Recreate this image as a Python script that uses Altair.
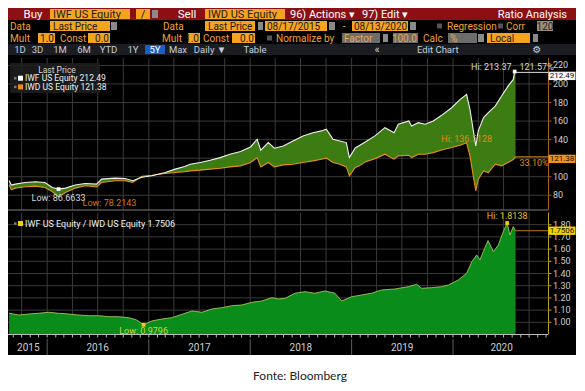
import altair as alt
import pandas as pd

# ---------------- data ----------------
price_dates = [
    "2015-08-17", "2015-08-25", "2015-09-08", "2015-10-14", "2015-11-19", "2015-12-24",
    "2016-01-19", "2016-02-11", "2016-03-07", "2016-04-11", "2016-05-17", "2016-06-27",
    "2016-07-15", "2016-09-02", "2016-10-07", "2016-11-04", "2016-12-07", "2017-01-12",
    "2017-03-01", "2017-04-06", "2017-05-10", "2017-05-30", "2017-07-05", "2017-08-10",
    "2017-09-15", "2017-10-20", "2017-11-27", "2018-01-02", "2018-01-26", "2018-02-08",
    "2018-03-07", "2018-03-29", "2018-04-30", "2018-06-04", "2018-07-10", "2018-08-15",
    "2018-09-14", "2018-10-02", "2018-10-26", "2018-11-19", "2018-12-13", "2018-12-24",
    "2019-01-14", "2019-01-31", "2019-02-19", "2019-03-26", "2019-05-01", "2019-06-03",
    "2019-06-18", "2019-07-26", "2019-08-05", "2019-08-29", "2019-09-23", "2019-10-22",
    "2019-11-21", "2019-12-27", "2020-01-27", "2020-02-19", "2020-03-02", "2020-03-23",
    "2020-04-01", "2020-04-20", "2020-05-07", "2020-06-01", "2020-06-24", "2020-07-17",
    "2020-08-05", "2020-08-10", "2020-08-13"]

iwf_price = [
    95.90, 91.0, 92.0, 93.8, 94.5, 93.8,
    88.4, 86.6633, 87.7, 91.0, 92.7, 92.0,
    97.4, 98.5, 98.0, 95.6, 99.5, 101.0,
    104.5, 108.2, 111.0, 113.5, 115.3, 117.8,
    120.6, 124.3, 127.1, 132.1, 140.4, 128.6,
    136.8, 130.7, 133.2, 138.6, 144.0, 147.5,
    149.4, 151.2, 140.4, 138.6, 136.8, 120.6,
    131.0, 134.0, 137.5, 144.0, 152.9, 147.5,
    156.6, 160.1, 154.7, 158.3, 156.6, 160.1,
    166.2, 174.4, 183.4, 188.8, 172.7, 133.2,
    149.4, 163.7, 169.1, 176.2, 187.0, 197.7,
    204.9, 213.37, 212.49]

iwd_price = [
    91.195, 86.0, 87.7, 89.1, 89.8, 88.4,
    84.0, 78.2143, 83.0, 87.7, 90.2, 89.1,
    93.8, 95.6, 95.6, 93.8, 100.5, 101.5,
    103.4, 104.5, 105.5, 106.3, 107.1, 108.2,
    109.2, 110.6, 111.7, 115.3, 120.6, 110.6,
    115.3, 110.6, 112.8, 113.5, 115.3, 117.1,
    118.9, 120.0, 115.3, 113.5, 110.6, 101.0,
    110.0, 112.0, 116.0, 119.5, 124.3, 118.9,
    122.5, 123.2, 120.6, 124.3, 124.3, 126.0,
    128.9, 131.4, 134.0, 136.5128, 122.5, 84.8,
    97.4, 106.3, 104.5, 113.5, 111.7, 115.3,
    118.5, 120.2, 121.38]

ratio_dates = [
    "2015-08-17", "2015-09-21", "2015-10-26", "2015-12-01", "2016-01-06", "2016-02-11",
    "2016-03-18", "2016-04-22", "2016-05-27", "2016-07-05", "2016-08-09", "2016-09-14",
    "2016-10-20", "2016-11-18", "2016-12-13", "2017-01-12", "2017-02-17", "2017-03-24",
    "2017-05-01", "2017-06-05", "2017-07-11", "2017-08-16", "2017-09-21", "2017-10-27",
    "2017-12-01", "2018-01-08", "2018-02-12", "2018-03-20", "2018-04-12", "2018-05-07",
    "2018-06-11", "2018-07-17", "2018-08-22", "2018-09-27", "2018-11-02", "2018-11-26",
    "2019-01-02", "2019-02-06", "2019-03-14", "2019-04-18", "2019-06-06", "2019-07-24",
    "2019-08-23", "2019-09-10", "2019-10-16", "2019-11-21", "2019-12-16", "2020-01-20",
    "2020-02-19", "2020-03-09", "2020-03-26", "2020-04-07", "2020-04-24", "2020-05-06",
    "2020-05-26", "2020-06-12", "2020-06-30", "2020-07-14", "2020-07-24", "2020-08-05",
    "2020-08-13"]

ratio_values = [
    1.074, 1.060, 1.068, 1.074, 1.082, 1.074,
    1.068, 1.060, 1.054, 1.054, 1.046, 1.046,
    1.038, 1.019, 0.9796, 1.011, 1.027, 1.038,
    1.066, 1.093, 1.082, 1.109, 1.120, 1.136,
    1.142, 1.164, 1.175, 1.202, 1.191, 1.197,
    1.238, 1.251, 1.238, 1.257, 1.238, 1.175,
    1.210, 1.224, 1.238, 1.265, 1.273, 1.292,
    1.311, 1.279, 1.284, 1.292, 1.306, 1.347,
    1.402, 1.497, 1.552, 1.511, 1.607, 1.670,
    1.579, 1.633, 1.743, 1.8138, 1.716, 1.784,
    1.7506]

year_labels = ["2015", "2016", "2017", "2018", "2019", "2020"]
year_label_dates = ["2015-10-25", "2016-07-01", "2017-07-02", "2018-07-02", "2019-07-02", "2020-06-24"]
year_start_dates = ["2016-01-01", "2017-01-01", "2018-01-01", "2019-01-01", "2020-01-01"]
price_ticks = [80, 100, 120, 140, 160, 180, 200, 220]
ratio_ticks = [1.0, 1.1, 1.2, 1.3, 1.4, 1.5, 1.6, 1.7, 1.8]
period_buttons = ["1D", "3D", "1M", "6M", "YTD", "1Y", "5Y", "Max", "Daily \u25bc", "Table"]

# ---------------- style ----------------
W, H, PAD_R = 540, 375, 28
BG = "#000000"
GRID = "#3a3a3a"
GREEN_TOP = "#3d7c12"
GREEN_BOT = "#0a8c1a"
IWF_COL = "#f2f2f2"
IWD_COL = "#e8901c"
RATIO_EDGE = "#b9d36a"
YELLOW = "#f2d100"
AXIS_LBL = "#cfcfcf"
TOP_AX = "#a35f16"
BOT_AX = "#b8a10a"
RED = "#8c0f14"
AMBER = "#f6a31e"
BOX_TXT = "#1b1b1b"
LBL = "#f3a02a"
GREYBOX = "#6d6d6d"
DROP = "#8a8a8a"
NARROW = "Liberation Sans Narrow, Arial Narrow, Roboto, sans-serif"
UI = "Roboto"
TAG = "M-1,-0.31L1,-0.31L1,0.31L-1,0.31Z"


def ms(s):
    return int(pd.Timestamp(s).value // 10**6)


xscale = alt.Scale(domain=[ms("2015-08-13"), ms("2020-12-08")], nice=False)
top_y = alt.Scale(domain=[64, 228], range=[202.1, 50.0], zero=False, nice=False)
bot_y = alt.Scale(domain=[0.9, 1.9], range=[326.5, 204.5], zero=False, nice=False)
X = alt.X("date:T", scale=xscale, axis=None)


def YT(field):
    return alt.Y(f"{field}:Q", scale=top_y, axis=None)


def YB(field):
    return alt.Y(f"{field}:Q", scale=bot_y, axis=None)


def note(df, y, color, align="center", dx=0, dy=0, size=9):
    return alt.Chart(df).mark_text(color=color, align=align, baseline="middle", dx=dx, dy=dy,
                                   fontSize=size, font=NARROW).encode(x=X, y=y, text="t:N")


def right_axis(tick_df, label_df, yenc, top, bottom, color):
    grid = alt.Chart(tick_df).mark_rule(color=GRID, strokeWidth=1).encode(
        x=alt.value(0), x2=alt.value(540), y=yenc)
    line = alt.Chart(tick_df.head(1)).mark_rule(color=color, strokeWidth=1).encode(
        x=alt.value(540.5), y=alt.value(top), y2=alt.value(bottom))
    ticks = alt.Chart(tick_df).mark_rule(color=color, strokeWidth=1).encode(
        x=alt.value(540.5), x2=alt.value(543.5), y=yenc)
    labels = alt.Chart(label_df).mark_text(color=AXIS_LBL, align="left", baseline="middle",
                                           fontSize=9, font=NARROW).encode(
        x=alt.value(545), y=yenc, text="t:N")
    return grid, alt.layer(line, ticks, labels)


price_df = pd.DataFrame({"date": price_dates, "iwf": iwf_price, "iwd": iwd_price})
ratio_df = pd.DataFrame({"date": ratio_dates, "ratio": ratio_values})
quarters = pd.DataFrame({"date": list(pd.date_range("2015-10-01", "2020-10-01", freq="QS").strftime("%Y-%m-%d"))})
months = pd.DataFrame({"date": list(pd.date_range("2015-09-01", "2020-12-01", freq="MS").strftime("%Y-%m-%d"))})
price_tick_df = pd.DataFrame({"v": price_ticks, "t": [f"{v:d}" for v in price_ticks]})
ratio_tick_df = pd.DataFrame({"v": ratio_ticks, "t": [f"{v:.2f}" for v in ratio_ticks]})
# the last-value tag of IWD hides the tick label right under it, as on the terminal
price_label_df = price_tick_df[(price_tick_df["v"] - iwd_price[-1]).abs() > 3]

# ---------------- top panel ----------------
hgrid_top, axis_top = right_axis(price_tick_df, price_label_df, YT("v"), 50, 202, TOP_AX)
vgrid_top = alt.Chart(quarters).mark_rule(color=GRID, strokeWidth=1).encode(
    x=X, y=alt.value(50), y2=alt.value(202))
area_top = alt.Chart(price_df).mark_area(color=GREEN_TOP, opacity=1).encode(
    x=X, y=YT("iwf"), y2=alt.Y2("iwd"))
line_iwd = alt.Chart(price_df).mark_line(color=IWD_COL, strokeWidth=1.1).encode(x=X, y=YT("iwd"))
line_iwf = alt.Chart(price_df).mark_line(color=IWF_COL, strokeWidth=1.1).encode(x=X, y=YT("iwf"))

f_lo = iwf_price.index(min(iwf_price))
f_hi = iwf_price.index(max(iwf_price))
d_lo = iwd_price.index(min(iwd_price))
d_hi = iwd_price.index(max(iwd_price))

iwf_ext = pd.DataFrame({"date": [price_dates[f_lo], price_dates[f_hi]],
                        "v": [iwf_price[f_lo], iwf_price[f_hi]]})
marks_top = alt.Chart(iwf_ext).mark_square(color="#ffffff", size=14, opacity=1).encode(x=X, y=YT("v"))

t_flo = pd.DataFrame({"date": [price_dates[f_lo]], "v": [iwf_price[f_lo]], "t": [f"Low: {iwf_price[f_lo]:.4f}"]})
t_dlo = pd.DataFrame({"date": [price_dates[d_lo]], "v": [iwd_price[d_lo]], "t": [f"Low: {iwd_price[d_lo]:.4f}"]})
t_fhi = pd.DataFrame({"date": [price_dates[f_hi]], "v": [iwf_price[f_hi]], "t": [f"Hi: {iwf_price[f_hi]:.2f}"]})
t_dhi = pd.DataFrame({"date": [price_dates[d_hi]], "v": [iwd_price[d_hi]], "t": [f"Hi: {iwd_price[d_hi]:.4f}"]})
pct_f = (iwf_price[-1] / iwf_price[0] - 1) * 100
pct_d = (iwd_price[-1] / iwd_price[0] - 1) * 100
t_fpct = pd.DataFrame({"date": [price_dates[-1]], "v": [iwf_price[-1]], "t": [f"{pct_f:.2f}%"]})
t_dpct = pd.DataFrame({"date": [price_dates[-1]], "v": [iwd_price[-1]], "t": [f"{pct_d:.2f}%"]})

last_f = pd.DataFrame({"date": [price_dates[-1]], "v": [iwf_price[-1]], "t": [f"{iwf_price[-1]:.2f}"]})
last_d = pd.DataFrame({"date": [price_dates[-1]], "v": [iwd_price[-1]], "t": [f"{iwd_price[-1]:.2f}"]})


def tag(df, y, fill, text_color, yoff=0):
    box = alt.Chart(df).mark_point(shape=TAG, size=729, filled=True, opacity=1, color=fill,
                                   strokeWidth=0, yOffset=yoff).encode(x=alt.value(554), y=y)
    txt = alt.Chart(df).mark_text(color=text_color, fontSize=8, font=NARROW, align="center",
                                  baseline="middle", yOffset=yoff).encode(x=alt.value(554), y=y, text="t:N")
    return alt.layer(box, txt)


rule_f = alt.Chart(last_f).mark_rule(color="#dddddd", strokeWidth=1).encode(x=X, x2=alt.value(540), y=YT("v"))
rule_d = alt.Chart(last_d).mark_rule(color=IWD_COL, strokeWidth=1).encode(x=X, x2=alt.value(540), y=YT("v"))

top_panel = alt.layer(
    hgrid_top, vgrid_top, area_top, line_iwd, line_iwf, rule_f, rule_d, marks_top, axis_top,
    note(t_flo, YT("v"), "#d8d8d8", "center", 0, 9),
    note(t_dlo, YT("v"), "#d07818", "left", 24, 6),
    note(t_fhi, YT("v"), "#d8d8d8", "right", -3, -5),
    note(t_dhi, YT("v"), "#e08a1a", "center", 0, -4),
    note(t_fpct, YT("v"), "#d8d8d8", "left", 4, -5),
    note(t_dpct, YT("v"), "#e08a1a", "left", 4, 6),
    tag(last_f, YT("v"), "#f4f4f4", "#111111", 3.5),
    tag(last_d, YT("v"), "#f0901c", "#111111", 2),
)

# ---------------- bottom panel ----------------
hgrid_bot, axis_bot = right_axis(ratio_tick_df, ratio_tick_df, YB("v"), 204.5, 326.5, BOT_AX)
vgrid_bot = alt.Chart(quarters).mark_rule(color=GRID, strokeWidth=1).encode(
    x=X, y=alt.value(204.5), y2=alt.value(326.5))
area_bot = alt.Chart(ratio_df).mark_area(color=GREEN_BOT, opacity=1).encode(
    x=X, y=YB("ratio"), y2=alt.datum(0.9))
edge_bot = alt.Chart(ratio_df).mark_line(color=RATIO_EDGE, strokeWidth=0.8).encode(x=X, y=YB("ratio"))

r_lo = ratio_values.index(min(ratio_values))
r_hi = ratio_values.index(max(ratio_values))
r_ext = pd.DataFrame({"date": [ratio_dates[r_lo], ratio_dates[r_hi]],
                      "v": [ratio_values[r_lo], ratio_values[r_hi]]})
marks_bot = alt.Chart(r_ext).mark_square(color=YELLOW, size=14, opacity=1).encode(x=X, y=YB("v"))
t_rlo = pd.DataFrame({"date": [ratio_dates[r_lo]], "v": [ratio_values[r_lo]], "t": [f"Low: {ratio_values[r_lo]:.4f}"]})
t_rhi = pd.DataFrame({"date": [ratio_dates[r_hi]], "v": [ratio_values[r_hi]], "t": [f"Hi: {ratio_values[r_hi]:.4f}"]})
last_r = pd.DataFrame({"date": [ratio_dates[-1]], "v": [ratio_values[-1]], "t": [f"{ratio_values[-1]:.4f}"]})
rule_r = alt.Chart(last_r).mark_rule(color="#b87a1c", strokeWidth=1).encode(x=X, x2=alt.value(540), y=YB("v"))

base_df = pd.DataFrame({"v": [0.9]})
baseline = alt.Chart(base_df).mark_rule(color="#bdbdbd", strokeWidth=1).encode(
    x=alt.value(0), x2=alt.value(540), y=YB("v"))
mticks = alt.Chart(months).mark_rule(color="#bdbdbd", strokeWidth=1).encode(
    x=X, y=alt.value(326.5), y2=alt.value(329.5))
ysep = alt.Chart(pd.DataFrame({"date": year_start_dates})).mark_rule(color="#5c5c5c", strokeWidth=1).encode(
    x=X, y=alt.value(331), y2=alt.value(347))
ylab = alt.Chart(pd.DataFrame({"date": year_label_dates, "t": year_labels})).mark_text(
    color=AXIS_LBL, fontSize=10, font=NARROW, baseline="middle").encode(x=X, y=alt.value(340), text="t:N")

bottom_panel = alt.layer(
    hgrid_bot, vgrid_bot, area_bot, edge_bot, baseline, mticks, ysep, ylab, rule_r, marks_bot, axis_bot,
    note(t_rlo, YB("v"), "#d4d23a", "center", 0, 6),
    note(t_rhi, YB("v"), "#e0c020", "center", 0, -7),
    tag(last_r, YB("v"), YELLOW, "#111111", 0),
)

# ---------------- overlay: terminal header, legends, footer ----------------
rects = [
    (0, 568, 0, 12, RED),
    (42, 122, 1, 11, AMBER), (128, 142, 1, 11, AMBER), (144, 150, 2, 10, DROP), (197, 277, 1, 11, AMBER),
    (42, 102, 13, 23, AMBER), (103, 109, 14, 22, DROP), (197, 247, 13, 23, AMBER), (250, 255, 14, 22, DROP),
    (257, 319, 13, 23, AMBER), (321, 327, 14, 22, DROP), (344, 400, 13, 23, AMBER), (402, 408, 14, 22, DROP),
    (429, 434, 15.5, 20.5, "#555555"), (490, 495, 15.5, 20.5, "#555555"), (529, 545, 13, 23, "#9a8b78"),
    (30, 47, 25, 35, AMBER), (80, 102, 25, 35, AMBER), (180, 192, 25, 35, AMBER), (224, 247, 25, 35, AMBER),
    (259, 264, 27.5, 32.5, "#555555"), (334, 372, 25, 35, GREYBOX), (375, 380, 26, 34, DROP),
    (385, 410, 25, 35, GREYBOX), (440, 469, 25, 35, GREYBOX), (470, 476, 26, 34, DROP),
    (479, 522, 25, 35, AMBER), (525, 530, 26, 34, DROP),
    (0, 568, 36, 47, "#1c1d22"), (137, 157, 37, 46, "#1a5fc8"),
    (0, 540, 201.5, 202.5, "#7d7d7d"),
    (6, 8.5, 69, 71.5, "#777777"), (10, 15, 67.7, 72.7, "#ffffff"),
    (6, 8.5, 77.7, 80.2, "#777777"), (10, 15, 76.4, 81.4, IWD_COL),
    (6, 8.5, 214.3, 216.8, "#777777"), (10, 15, 213, 218, YELLOW),
    (0, 568, 347, 375, "#ffffff"),
]
rect_df = pd.DataFrame(rects, columns=["x", "x2", "y", "y2", "fill"])


def px_rects(df, opacity=1.0):
    return alt.Chart(df).mark_rect(opacity=opacity).encode(
        x=alt.X("x:Q", scale=None, axis=None), x2=alt.X2("x2"),
        y=alt.Y("y:Q", scale=None, axis=None), y2=alt.Y2("y2"),
        color=alt.Color("fill:N", scale=None, legend=None))


legend_box = px_rects(pd.DataFrame([(2, 92, 55, 85, "#1e1e1e")], columns=["x", "x2", "y", "y2", "fill"]), 0.85)

texts = [
    ("Buy", 25, 6.5, "#ffffff", 11.5, "center", UI),
    ("IWF US Equity", 45, 6.5, BOX_TXT, 11, "left", UI),
    ("/", 135, 6.5, BOX_TXT, 11, "center", UI),
    ("Sell", 179, 6.5, "#ffffff", 11.5, "center", UI),
    ("IWD US Equity", 200, 6.5, BOX_TXT, 11, "left", UI),
    ("96) Actions \u25be", 282, 6.5, "#ffffff", 11, "left", UI),
    ("97) Edit \u25be", 354, 6.5, "#ffffff", 11, "left", UI),
    ("Ratio Analysis", 559, 6.5, "#ffffff", 11, "right", UI),
    ("Data", 2, 18.5, LBL, 10, "left", UI),
    ("Last Price", 45, 18.5, BOX_TXT, 10, "left", UI),
    ("Data", 155, 18.5, LBL, 10, "left", UI),
    ("Last Price", 200, 18.5, BOX_TXT, 10, "left", UI),
    ("08/17/2015", 259, 18.5, BOX_TXT, 10, "left", UI),
    ("-", 336, 18.5, LBL, 10, "center", UI),
    ("08/13/2020", 346, 18.5, BOX_TXT, 10, "left", UI),
    ("Regression", 439, 18.5, LBL, 10, "left", UI),
    ("Corr", 498, 18.5, LBL, 10, "left", UI),
    ("120", 537, 18.5, "#2a2a2a", 10, "center", UI),
    ("Mult", 2, 30.5, LBL, 10, "left", UI),
    ("1.0", 46, 30.5, BOX_TXT, 10, "right", UI),
    ("Const", 52, 30.5, LBL, 10, "left", UI),
    ("0.0", 101, 30.5, BOX_TXT, 10, "right", UI),
    ("Mult", 154, 30.5, LBL, 10, "left", UI),
    ("1.0", 191, 30.5, BOX_TXT, 10, "right", UI),
    ("Const", 195, 30.5, LBL, 10, "left", UI),
    ("0.0", 246, 30.5, BOX_TXT, 10, "right", UI),
    ("Normalize by", 268, 30.5, LBL, 10, "left", UI),
    ("Factor", 336, 30.5, "#e9a848", 10, "left", UI),
    ("100.0", 409, 30.5, "#e9a848", 10, "right", UI),
    ("Calc", 415, 30.5, LBL, 10, "left", UI),
    ("%", 442, 30.5, "#e9a848", 10, "left", UI),
    ("Local", 482, 30.5, BOX_TXT, 10, "left", UI),
    ("\u00ab", 369, 41.5, "#c6cedb", 11, "center", UI),
    ("Edit Chart", 409, 41.5, "#c6cedb", 9.5, "left", UI),
    ("\u2699", 529, 41.5, "#c6cedb", 10, "center", "DejaVu Sans"),
    ("Last Price", 49, 61.5, "#d6d6d6", 8.5, "center", NARROW),
    (f"IWF US Equity {iwf_price[-1]:.2f}", 17, 70.2, "#f0f0f0", 8.5, "left", NARROW),
    (f"IWD US Equity {iwd_price[-1]:.2f}", 17, 78.9, "#f0f0f0", 8.5, "left", NARROW),
    (f"IWF US Equity / IWD US Equity {ratio_values[-1]:.4f}", 17, 215.5, "#f0f0f0", 9, "left", NARROW),
    ("Fonte: Bloomberg", 292, 368, "#222222", 12, "center", "Lato"),
]
button_x = [12, 29.5, 52, 76, 100.5, 125, 147, 170, 202, 247]
for lab, bx in zip(period_buttons, button_x):
    texts.append((lab, bx, 41.5, "#ffffff" if lab == "5Y" else "#c6cedb", 9.5, "center", UI))

text_df = pd.DataFrame(texts, columns=["t", "x", "y", "c", "s", "align", "font"])
text_layers = []
for (al, fnt), g in text_df.groupby(["align", "font"]):
    text_layers.append(
        alt.Chart(g.drop(columns=["align", "font"])).mark_text(align=al, baseline="middle", font=fnt).encode(
            x=alt.X("x:Q", scale=None, axis=None), y=alt.Y("y:Q", scale=None, axis=None),
            text="t:N", color=alt.Color("c:N", scale=None, legend=None),
            size=alt.Size("s:Q", scale=None, legend=None)))

overlay = alt.layer(legend_box, px_rects(rect_df), *text_layers)

chart = alt.layer(top_panel, bottom_panel, overlay).resolve_scale(
    x="independent", y="independent", color="independent", size="independent"
).properties(
    width=W, height=H, background=BG,
    autosize=alt.AutoSizeParams(type="none"),
    padding={"left": 0, "top": 0, "right": PAD_R, "bottom": 0},
).configure_view(strokeOpacity=0)

chart.save("out.html", embed_options={"renderer": "svg", "actions": False})
